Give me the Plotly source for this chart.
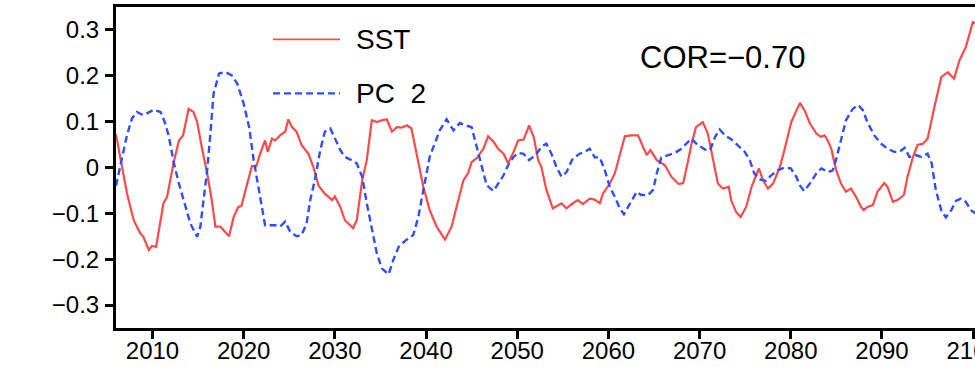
import plotly.graph_objects as go

sst_year = [2006.0, 2006.66, 2007.2, 2007.94, 2008.67, 2009.0, 2009.6, 2009.95, 2010.4, 2011.2, 2011.6,
            2012.3, 2012.9, 2013.35, 2013.97, 2014.5, 2014.9, 2015.44, 2016.0, 2016.5, 2016.9, 2017.45,
            2017.8, 2018.4, 2018.9, 2019.4, 2019.75, 2020.2, 2020.9, 2021.4, 2021.8, 2022.35, 2022.64,
            2023.1, 2023.45, 2024.0, 2024.55, 2024.9, 2025.3, 2025.8, 2026.35, 2027.1, 2027.65, 2028.2,
            2028.9, 2029.7, 2030.0, 2030.6, 2031.1, 2032.0, 2032.4, 2033.0, 2033.5, 2034.05, 2034.6,
            2035.15, 2035.7, 2036.25, 2036.8, 2037.35, 2037.9, 2038.4, 2038.96, 2039.7, 2040.4, 2041.16,
            2042.08, 2042.8, 2043.54, 2044.1, 2044.6, 2045.0, 2045.55, 2046.3, 2046.8, 2047.4, 2047.9,
            2048.5, 2049.0, 2049.6, 2050.1, 2050.7, 2051.3, 2051.8, 2052.3, 2052.65, 2053.2, 2053.9,
            2054.85, 2055.4, 2056.1, 2056.65, 2057.2, 2057.95, 2058.5, 2059.05, 2059.4, 2060.15, 2060.7,
            2061.25, 2061.8, 2062.5, 2063.25, 2063.8, 2064.2, 2064.6, 2065.3, 2066.2, 2066.9, 2067.7,
            2068.2, 2068.75, 2069.1, 2069.6, 2070.35, 2070.9, 2071.45, 2072.0, 2072.55, 2073.2, 2073.45,
            2074.0, 2074.5, 2075.1, 2075.7, 2076.5, 2076.95, 2077.5, 2078.05, 2078.8, 2079.3, 2080.05,
            2081.0, 2081.5, 2082.1, 2082.8, 2083.3, 2083.7, 2084.05, 2084.45, 2084.95, 2085.5, 2086.05,
            2086.6, 2087.15, 2087.7, 2088.0, 2088.4, 2089.0, 2089.5, 2090.25, 2090.6, 2091.2, 2091.7,
            2092.4, 2092.8, 2093.4, 2093.9, 2094.5, 2095.0, 2095.75, 2096.5, 2097.2, 2097.9, 2098.5,
            2099.2, 2099.96, 2100.4]
sst_value = [0.072, 0.000, -0.056, -0.115, -0.144, -0.151, -0.180, -0.171, -0.173, -0.078, -0.064,
             0.009, 0.059, 0.070, 0.128, 0.121, 0.099, 0.041, -0.013, -0.071, -0.129, -0.129,
             -0.137, -0.150, -0.108, -0.086, -0.084, -0.049, 0.003, 0.003, 0.030, 0.059, 0.034,
             0.063, 0.059, 0.070, 0.078, 0.105, 0.088, 0.078, 0.049, 0.030, 0.001, -0.039,
             -0.057, -0.071, -0.063, -0.086, -0.115, -0.132, -0.115, -0.028, 0.016, 0.103, 0.099,
             0.103, 0.105, 0.078, 0.088, 0.087, 0.092, 0.085, 0.030, -0.042, -0.093, -0.129,
             -0.157, -0.129, -0.071, -0.028, -0.013, 0.012, 0.020, 0.041, 0.068, 0.056, 0.041,
             0.030, 0.009, 0.034, 0.059, 0.061, 0.092, 0.067, 0.016, 0.001, -0.049, -0.089,
             -0.078, -0.089, -0.078, -0.071, -0.080, -0.068, -0.070, -0.078, -0.057, -0.035, -0.013,
             0.030, 0.068, 0.070, 0.070, 0.045, 0.027, 0.038, 0.016, 0.005, -0.020, -0.036,
             -0.034, 0.016, 0.050, 0.088, 0.099, 0.074, 0.016, -0.035, -0.046, -0.042, -0.071,
             -0.097, -0.108, -0.086, -0.042, -0.002, -0.028, -0.046, -0.035, 0.001, 0.038, 0.099,
             0.141, 0.125, 0.096, 0.074, 0.067, 0.070, 0.059, 0.040, -0.004, -0.035, -0.053,
             -0.046, -0.064, -0.086, -0.093, -0.086, -0.082, -0.053, -0.034, -0.042, -0.075, -0.071,
             -0.060, -0.020, 0.023, 0.049, 0.052, 0.063, 0.132, 0.197, 0.208, 0.194, 0.234,
             0.263, 0.317, 0.312]

pc2_year = [2006.0, 2006.5, 2007.2, 2007.75, 2008.3, 2009.0, 2009.6, 2010.15, 2010.9, 2011.4, 2011.8,
            2012.35, 2012.9, 2013.4, 2014.15, 2014.9, 2015.25, 2015.6, 2016.0, 2016.35, 2016.7, 2017.3,
            2018.0, 2018.7, 2019.3, 2020.0, 2020.6, 2021.1, 2021.65, 2022.0, 2022.35, 2022.9, 2023.45,
            2024.0, 2024.55, 2025.1, 2025.8, 2026.35, 2026.9, 2027.3, 2027.8, 2028.4, 2028.9, 2029.5,
            2030.0, 2030.6, 2031.1, 2031.85, 2032.4, 2033.0, 2033.5, 2034.05, 2034.6, 2035.15, 2035.9,
            2036.4, 2037.0, 2037.7, 2038.6, 2039.15, 2039.5, 2039.9, 2040.4, 2040.95, 2041.5, 2042.25,
            2043.0, 2043.7, 2044.3, 2045.0, 2045.55, 2046.1, 2046.65, 2047.4, 2047.9, 2048.5, 2049.0,
            2049.6, 2050.1, 2050.7, 2051.3, 2052.0, 2052.7, 2053.2, 2053.75, 2054.3, 2054.85, 2055.4,
            2056.1, 2056.85, 2057.4, 2057.95, 2058.5, 2059.05, 2059.6, 2060.15, 2060.7, 2061.25, 2061.7,
            2062.35, 2063.1, 2063.6, 2064.35, 2064.9, 2065.3, 2065.8, 2066.6, 2067.3, 2068.0, 2068.75,
            2069.1, 2069.8, 2070.6, 2071.15, 2071.7, 2072.2, 2072.8, 2073.5, 2074.2, 2074.95, 2075.5,
            2076.0, 2076.6, 2077.3, 2077.85, 2078.6, 2079.3, 2080.0, 2080.6, 2081.0, 2081.45, 2082.1,
            2082.8, 2083.35, 2084.1, 2084.6, 2084.95, 2085.5, 2086.05, 2086.8, 2087.4, 2087.9, 2088.4,
            2089.15, 2089.9, 2090.6, 2091.35, 2091.9, 2092.5, 2093.0, 2093.7, 2094.3, 2095.0, 2095.45,
            2095.9, 2096.5, 2097.0, 2097.6, 2098.1, 2098.65, 2099.2, 2099.75, 2100.4]
pc2_value = [-0.040, 0.009, 0.070, 0.107, 0.121, 0.114, 0.121, 0.126, 0.121, 0.096, 0.067,
             0.009, -0.035, -0.071, -0.122, -0.151, -0.129, -0.071, -0.006, 0.074, 0.161, 0.205,
             0.208, 0.201, 0.183, 0.139, 0.088, 0.016, -0.049, -0.086, -0.126, -0.126, -0.126,
             -0.129, -0.118, -0.140, -0.150, -0.147, -0.122, -0.071, -0.028, 0.038, 0.078, 0.085,
             0.063, 0.038, 0.023, 0.016, 0.009, -0.020, -0.078, -0.137, -0.187, -0.220, -0.233,
             -0.202, -0.173, -0.160, -0.147, -0.108, -0.071, -0.028, 0.023, 0.052, 0.081, 0.105,
             0.081, 0.097, 0.092, 0.088, 0.045, -0.002, -0.039, -0.051, -0.035, -0.017, 0.005,
             0.023, 0.032, 0.030, 0.016, 0.027, 0.046, 0.052, 0.030, 0.001, -0.020, -0.010,
             0.020, 0.030, 0.034, 0.041, 0.022, 0.022, -0.006, -0.042, -0.064, -0.089, -0.102,
             -0.078, -0.053, -0.060, -0.060, -0.049, -0.013, 0.022, 0.027, 0.032, 0.041, 0.057,
             0.063, 0.049, 0.039, 0.038, 0.067, 0.083, 0.070, 0.061, 0.049, 0.034, 0.016,
             -0.013, -0.026, -0.029, -0.017, -0.006, 0.000, -0.002, -0.020, -0.039, -0.051, -0.035,
             -0.013, -0.002, -0.010, -0.006, 0.016, 0.059, 0.103, 0.128, 0.136, 0.125, 0.099,
             0.070, 0.052, 0.041, 0.034, 0.034, 0.043, 0.023, 0.027, 0.023, 0.030, 0.009,
             -0.049, -0.093, -0.109, -0.093, -0.073, -0.068, -0.075, -0.093, -0.102]

x_ticks = [2010, 2020, 2030, 2040, 2050, 2060, 2070, 2080, 2090, 2100]
y_ticks = [-0.3, -0.2, -0.1, 0, 0.1, 0.2, 0.3]
y_tick_text = ["\u22120.3", "\u22120.2", "\u22120.1", "0", "0.1", "0.2", "0.3"]
series_names = ["SST", "PC  2"]
cor_text = "COR=\u22120.70"

RED = "#ff4a4a"
BLUE = "#2f4fff"
FONT = "Liberation Sans, Arial, sans-serif"

fig = go.Figure()
fig.add_trace(go.Scatter(x=sst_year, y=sst_value, mode="lines", name=series_names[0],
                         line=dict(color=RED, width=2.2)))
fig.add_trace(go.Scatter(x=pc2_year, y=pc2_value, mode="lines", name=series_names[1],
                         line=dict(color=BLUE, width=2.4, dash="7px,4px")))

# manual legend (layout elements)
leg = [(0.899, RED, "solid", series_names[0]), (0.731, BLUE, "7px,4px", series_names[1])]
for yy, col, dash, txt in leg:
    fig.add_shape(type="line", xref="paper", yref="paper", x0=0.1828, x1=0.2608, y0=yy, y1=yy,
                  line=dict(color=col, width=1.8 if dash == "solid" else 2.2, dash=dash))
    fig.add_annotation(xref="paper", yref="paper", x=0.2772, y=yy, text=txt, showarrow=False,
                       xanchor="left", yanchor="middle", font=dict(size=28, color="black", family=FONT))

fig.add_annotation(xref="paper", yref="paper", x=0.7055, y=0.843, text=cor_text, showarrow=False,
                   xanchor="center", yanchor="middle", font=dict(size=31, color="black", family=FONT))

fig.update_layout(
    width=975, height=367,
    margin=dict(l=116, r=0, t=7, b=39, autoexpand=False),
    paper_bgcolor="white", plot_bgcolor="white",
    showlegend=False,
    font=dict(family=FONT, color="black"),
)
fig.update_xaxes(range=[2006, 2100.2], tickvals=x_ticks, ticks="outside", ticklen=8, tickwidth=2.5,
                 tickcolor="black", showline=True, linecolor="black", linewidth=3, mirror=True,
                 showgrid=False, zeroline=False, ticklabeloverflow="allow", automargin=False,
                 ticklabelstandoff=-9, tickfont=dict(size=24, family=FONT))
fig.update_yaxes(range=[-0.35, 0.35], tickvals=y_ticks, ticktext=y_tick_text, ticks="outside", ticklen=8,
                 tickwidth=2.5, tickcolor="black", showline=True, linecolor="black", linewidth=3,
                 mirror=False, showgrid=False, zeroline=False, ticklabelstandoff=1, automargin=False,
                 tickfont=dict(size=24, family=FONT))

fig.write_html("out.html")
